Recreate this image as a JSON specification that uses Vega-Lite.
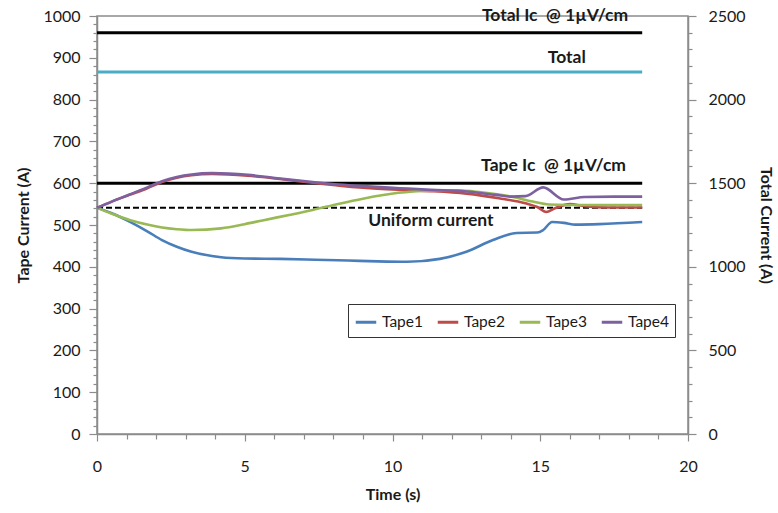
{
  "$schema": "https://vega.github.io/schema/vega-lite/v6.json",
  "width": 591,
  "height": 418,
  "autosize": {"type": "none"},
  "padding": {"left": 97, "top": 16, "right": 90, "bottom": 79},
  "background": "white",
  "config": {
    "font": "Lato",
    "view": {"stroke": "#8c8c8c", "strokeWidth": 1.5},
    "axis": {
      "domainColor": "#8c8c8c", "domainWidth": 1.5, "tickColor": "#8c8c8c", "tickWidth": 1.2,
      "labelFont": "Lato", "labelFontSize": 16, "labelColor": "#1a1a1a",
      "titleFont": "Lato", "titleFontSize": 16, "titleFontWeight": "bold", "titleColor": "#1a1a1a",
      "grid": false, "labelOverlap": false, "labelFlush": false, "format": "d"
    },
    "legend": {
      "orient": "none", "legendX": 251, "legendY": 288, "direction": "horizontal",
      "strokeColor": "#333", "fillColor": "white", "padding": 6,
      "symbolType": "stroke", "symbolStrokeWidth": 3, "symbolSize": 420,
      "labelFont": "Lato", "labelFontSize": 15.5, "labelColor": "#1a1a1a", "columnPadding": 8, "symbolOffset": 0
    }
  },
  "datasets": {
    "tapes": [
      {"t": 0, "tape": "Tape1", "I": 541}, {"t": 0.5, "tape": "Tape1", "I": 528}, {"t": 1.1, "tape": "Tape1", "I": 508},
      {"t": 1.7, "tape": "Tape1", "I": 485}, {"t": 2.2, "tape": "Tape1", "I": 464}, {"t": 2.7, "tape": "Tape1", "I": 448},
      {"t": 3.2, "tape": "Tape1", "I": 436}, {"t": 3.7, "tape": "Tape1", "I": 428}, {"t": 4.2, "tape": "Tape1", "I": 423},
      {"t": 5.0, "tape": "Tape1", "I": 420}, {"t": 6.2, "tape": "Tape1", "I": 419}, {"t": 7.4, "tape": "Tape1", "I": 417},
      {"t": 8.5, "tape": "Tape1", "I": 415}, {"t": 9.5, "tape": "Tape1", "I": 413}, {"t": 10.5, "tape": "Tape1", "I": 412},
      {"t": 11.6, "tape": "Tape1", "I": 419}, {"t": 12.5, "tape": "Tape1", "I": 436}, {"t": 13.4, "tape": "Tape1", "I": 464},
      {"t": 14.2, "tape": "Tape1", "I": 481}, {"t": 14.9, "tape": "Tape1", "I": 482}, {"t": 15.1, "tape": "Tape1", "I": 488},
      {"t": 15.4, "tape": "Tape1", "I": 507}, {"t": 15.8, "tape": "Tape1", "I": 505}, {"t": 16.2, "tape": "Tape1", "I": 501},
      {"t": 17.0, "tape": "Tape1", "I": 502}, {"t": 18.45, "tape": "Tape1", "I": 507},

      {"t": 0, "tape": "Tape2", "I": 541}, {"t": 0.5, "tape": "Tape2", "I": 556}, {"t": 1.1, "tape": "Tape2", "I": 572},
      {"t": 1.7, "tape": "Tape2", "I": 588}, {"t": 2.2, "tape": "Tape2", "I": 603}, {"t": 2.7, "tape": "Tape2", "I": 613},
      {"t": 3.2, "tape": "Tape2", "I": 619}, {"t": 3.9, "tape": "Tape2", "I": 622}, {"t": 5.1, "tape": "Tape2", "I": 618},
      {"t": 6.2, "tape": "Tape2", "I": 610}, {"t": 7.3, "tape": "Tape2", "I": 601}, {"t": 8.2, "tape": "Tape2", "I": 594},
      {"t": 9.0, "tape": "Tape2", "I": 589}, {"t": 10.25, "tape": "Tape2", "I": 584}, {"t": 11.3, "tape": "Tape2", "I": 581},
      {"t": 12.5, "tape": "Tape2", "I": 575}, {"t": 13.6, "tape": "Tape2", "I": 564}, {"t": 14.5, "tape": "Tape2", "I": 552},
      {"t": 14.9, "tape": "Tape2", "I": 543}, {"t": 15.2, "tape": "Tape2", "I": 531}, {"t": 15.5, "tape": "Tape2", "I": 540},
      {"t": 16.0, "tape": "Tape2", "I": 550}, {"t": 16.5, "tape": "Tape2", "I": 545}, {"t": 17.2, "tape": "Tape2", "I": 542},
      {"t": 18.45, "tape": "Tape2", "I": 542},

      {"t": 0, "tape": "Tape3", "I": 541}, {"t": 0.5, "tape": "Tape3", "I": 527}, {"t": 1.1, "tape": "Tape3", "I": 512},
      {"t": 1.7, "tape": "Tape3", "I": 501}, {"t": 2.2, "tape": "Tape3", "I": 494}, {"t": 2.7, "tape": "Tape3", "I": 490},
      {"t": 3.2, "tape": "Tape3", "I": 488}, {"t": 4.2, "tape": "Tape3", "I": 492}, {"t": 5.0, "tape": "Tape3", "I": 502},
      {"t": 5.6, "tape": "Tape3", "I": 511}, {"t": 6.5, "tape": "Tape3", "I": 524}, {"t": 7.3, "tape": "Tape3", "I": 536},
      {"t": 8.2, "tape": "Tape3", "I": 551}, {"t": 9.0, "tape": "Tape3", "I": 563}, {"t": 10.2, "tape": "Tape3", "I": 577},
      {"t": 11.3, "tape": "Tape3", "I": 582}, {"t": 12.2, "tape": "Tape3", "I": 583}, {"t": 13.0, "tape": "Tape3", "I": 578},
      {"t": 14.0, "tape": "Tape3", "I": 568}, {"t": 14.75, "tape": "Tape3", "I": 556}, {"t": 15.3, "tape": "Tape3", "I": 549},
      {"t": 15.9, "tape": "Tape3", "I": 548}, {"t": 18.45, "tape": "Tape3", "I": 548},

      {"t": 0, "tape": "Tape4", "I": 541}, {"t": 0.5, "tape": "Tape4", "I": 556}, {"t": 1.1, "tape": "Tape4", "I": 573},
      {"t": 1.7, "tape": "Tape4", "I": 590}, {"t": 2.2, "tape": "Tape4", "I": 605}, {"t": 2.7, "tape": "Tape4", "I": 615},
      {"t": 3.2, "tape": "Tape4", "I": 621}, {"t": 3.9, "tape": "Tape4", "I": 624}, {"t": 5.1, "tape": "Tape4", "I": 620},
      {"t": 6.2, "tape": "Tape4", "I": 611}, {"t": 7.3, "tape": "Tape4", "I": 603}, {"t": 8.2, "tape": "Tape4", "I": 597},
      {"t": 9.0, "tape": "Tape4", "I": 593}, {"t": 10.25, "tape": "Tape4", "I": 588}, {"t": 11.3, "tape": "Tape4", "I": 584},
      {"t": 12.5, "tape": "Tape4", "I": 580}, {"t": 13.5, "tape": "Tape4", "I": 572}, {"t": 14.0, "tape": "Tape4", "I": 568},
      {"t": 14.5, "tape": "Tape4", "I": 569}, {"t": 15.1, "tape": "Tape4", "I": 590}, {"t": 15.8, "tape": "Tape4", "I": 561},
      {"t": 16.5, "tape": "Tape4", "I": 567}, {"t": 17.5, "tape": "Tape4", "I": 568}, {"t": 18.45, "tape": "Tape4", "I": 568}
    ],
    "tapeLines": [
      {"name": "Tape Ic", "t": 0, "t2": 18.45, "I": 600},
      {"name": "Uniform", "t": 0, "t2": 18.45, "I": 541}
    ],
    "totalLines": [
      {"name": "Total Ic", "t": 0, "t2": 18.45, "I": 2400},
      {"name": "Total", "t": 0, "t2": 18.45, "I": 2165}
    ],
    "labels": [
      {"label": "Total Ic\u00a0 @ 1µV/cm", "t": 15.5, "I": 1000},
      {"label": "Total", "t": 15.9, "I": 900},
      {"label": "Tape Ic\u00a0 @ 1µV/cm", "t": 15.45, "I": 641},
      {"label": "Uniform current", "t": 11.3, "I": 509}
    ]
  },
  "encoding": {
    "x": {
      "field": "t", "type": "quantitative",
      "scale": {"domain": [0, 20], "nice": false},
      "axis": {
        "title": "Time (s)",
        "values": [0,1,2,3,4,5,6,7,8,9,10,11,12,13,14,15,16,17,18,19,20],
        "labelExpr": "datum.value % 5 === 0 ? datum.label : ''",
        "tickSize": {"condition": {"test": "datum.value % 5 === 0", "value": 7}, "value": 5},
        "labelPadding": 17, "titlePadding": 12
      }
    }
  },
  "layer": [
    {
      "encoding": {
        "y": {
          "field": "I", "type": "quantitative",
          "scale": {"domain": [0, 1000], "nice": false},
          "axis": {
            "title": "Tape Current (A)", "orient": "left",
            "values": [0,20,40,60,80,100,120,140,160,180,200,220,240,260,280,300,320,340,360,380,400,420,440,460,480,500,520,540,560,580,600,620,640,660,680,700,720,740,760,780,800,820,840,860,880,900,920,940,960,980,1000],
            "labelExpr": "datum.value % 100 === 0 ? datum.label : ''",
            "tickSize": {"condition": {"test": "datum.value % 100 === 0", "value": 8}, "value": 4},
            "labelPadding": 9, "titlePadding": 11
          }
        }
      },
      "layer": [
        {
          "data": {"name": "tapeLines"},
          "transform": [{"filter": "datum.name === 'Tape Ic'"}],
          "mark": {"type": "rule", "color": "#000", "strokeWidth": 3},
          "encoding": {"x2": {"field": "t2"}}
        },
        {
          "data": {"name": "tapeLines"},
          "transform": [{"filter": "datum.name === 'Uniform'"}],
          "mark": {"type": "rule", "color": "#000", "strokeWidth": 2, "strokeDash": [6, 3]},
          "encoding": {"x2": {"field": "t2"}}
        },
        {
          "data": {"name": "tapes"},
          "mark": {"type": "line", "strokeWidth": 2.6, "interpolate": "monotone"},
          "encoding": {
            "color": {
              "field": "tape", "type": "nominal",
              "scale": {"domain": ["Tape1", "Tape2", "Tape3", "Tape4"], "range": ["#4a7ebb", "#be4b48", "#98b954", "#7d60a0"]},
              "legend": {"title": null}
            }
          }
        },
        {
          "data": {"name": "labels"},
          "mark": {"type": "text", "font": "Lato", "fontSize": 17.5, "fontWeight": "bold", "color": "#1a1a1a", "align": "center", "baseline": "middle"},
          "encoding": {"text": {"field": "label"}}
        }
      ]
    },
    {
      "data": {"name": "totalLines"},
      "mark": {"type": "rule", "strokeWidth": 3},
      "encoding": {
        "x2": {"field": "t2"},
        "y": {
          "field": "I", "type": "quantitative",
          "scale": {"domain": [0, 2500], "nice": false},
          "axis": {
            "title": "Total Current (A)", "orient": "right", "titleAngle": 90,
            "values": [0,100,200,300,400,500,600,700,800,900,1000,1100,1200,1300,1400,1500,1600,1700,1800,1900,2000,2100,2200,2300,2400,2500],
            "labelExpr": "datum.value % 500 === 0 ? datum.label : ''",
            "tickSize": {"condition": {"test": "datum.value % 500 === 0", "value": 8}, "value": 4},
            "labelPadding": 12, "titlePadding": 12
          }
        },
        "color": {"field": "name", "type": "nominal", "scale": {"domain": ["Total Ic", "Total"], "range": ["#000000", "#4bacc6"]}, "legend": null},
        "strokeWidth": {"field": "name", "type": "nominal", "scale": {"domain": ["Total Ic", "Total"], "range": [3, 2.4]}, "legend": null}
      }
    }
  ],
  "resolve": {"scale": {"y": "independent", "color": "independent", "strokeWidth": "independent"}}
}
